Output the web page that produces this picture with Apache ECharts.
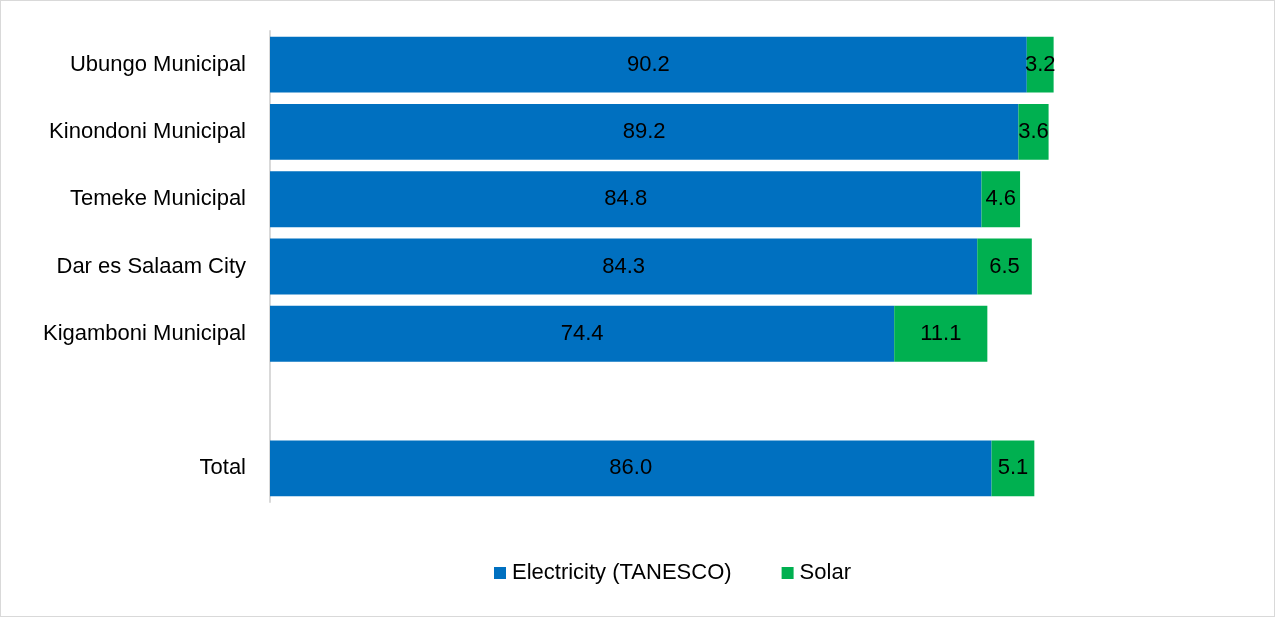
<!DOCTYPE html>
<html><head><meta charset="utf-8">
<script src="https://cdn.jsdelivr.net/npm/echarts@6/dist/echarts.min.js"></script>
<style>
html,body{margin:0;padding:0;background:#fff;}
#c{position:absolute;left:0;top:0;width:1273px;height:615px;border:1px solid #d9d9d9;}
</style></head><body>
<div id="c"></div>
<script>
const categories = ["Ubungo Municipal","Kinondoni Municipal","Temeke Municipal","Dar es Salaam City","Kigamboni Municipal","","Total"];
const electricity = [90.2, 89.2, 84.8, 84.3, 74.4, null, 86.0];
const solar = [3.2, 3.6, 4.6, 6.5, 11.1, null, 5.1];
const seriesNames = ["Electricity (TANESCO)", "Solar"];

const FONT = "'Liberation Sans Narrow','Arial Narrow','Liberation Sans',sans-serif";
const chart = echarts.init(document.getElementById('c'));
const lbl = {show:true, position:'inside', color:'#000', fontFamily:FONT, fontSize:22,
  formatter: p => p.value == null ? '' : p.value.toFixed(1)};
chart.setOption({
  animation:false,
  grid:{left:269, right:165, top:30, bottom:114},
  xAxis:{type:'value', min:0, max:100, show:false},
  yAxis:{type:'category', data:categories, inverse:true,
    axisLine:{show:true, lineStyle:{color:'#d9d9d9', width:2}},
    axisTick:{show:false},
    axisLabel:{color:'#000', fontFamily:FONT, fontSize:22, margin:24}},
  legend:{bottom:27, left:488, itemWidth:12, itemHeight:12, itemGap:50,
    icon:'rect', textStyle:{color:'#000', fontFamily:FONT, fontSize:22, padding:[0,0,0,1]}},
  series:[
    {name:seriesNames[0], type:'bar', stack:'a', data:electricity, barCategoryGap:'17%',
     itemStyle:{color:'#0070C0'}, label:lbl},
    {name:seriesNames[1], type:'bar', stack:'a', data:solar,
     itemStyle:{color:'#00B050'}, label:lbl}
  ]
});
</script></body></html>
